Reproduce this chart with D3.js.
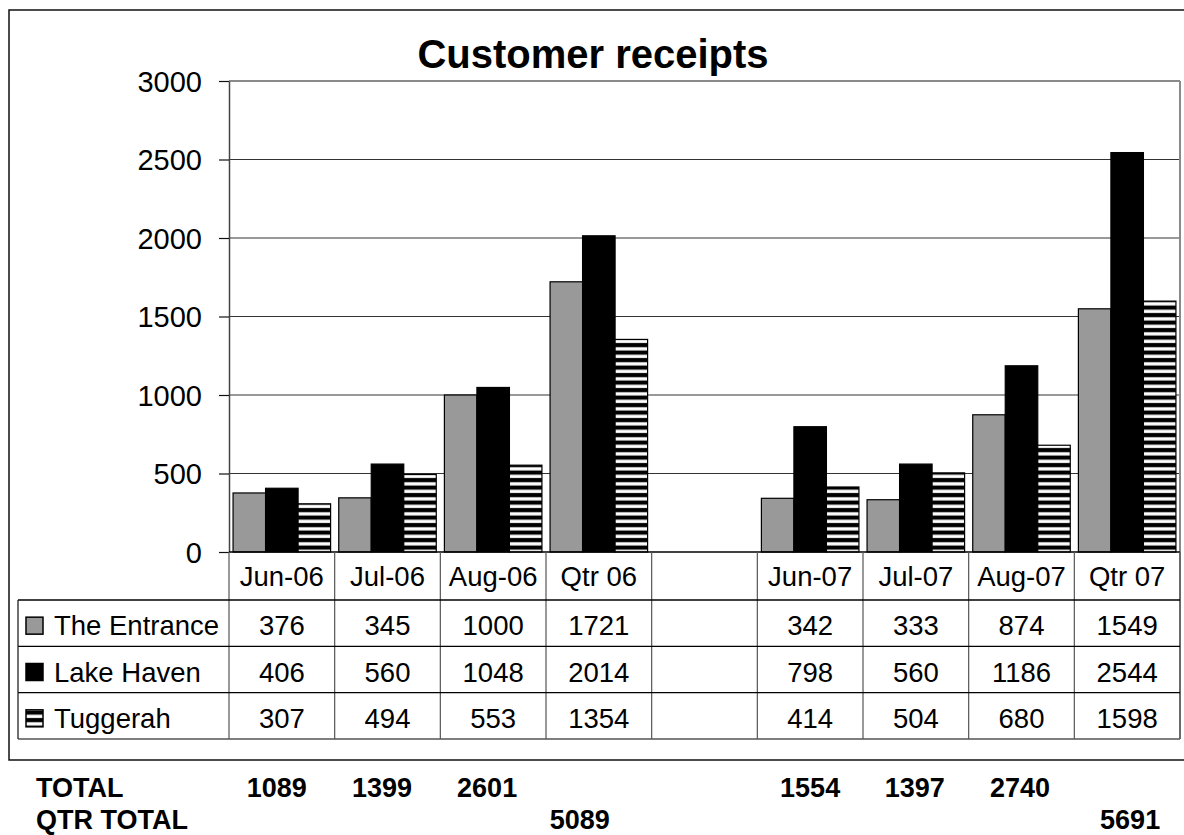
<!DOCTYPE html>
<html>
<head>
<meta charset="utf-8">
<script src="https://cdn.jsdelivr.net/npm/d3@7"></script>
<style>
  html, body { margin: 0; padding: 0; background: #fff; }
  svg { display: block; font-family: "Liberation Sans", Arial, sans-serif; }
</style>
</head>
<body>
<svg id="chart" width="1184" height="835"></svg>
<script>
const title = "Customer receipts";
const categories = ["Jun-06", "Jul-06", "Aug-06", "Qtr 06", "", "Jun-07", "Jul-07", "Aug-07", "Qtr 07"];
const seriesNames = ["The Entrance", "Lake Haven", "Tuggerah"];
const theEntrance = [376, 345, 1000, 1721, null, 342, 333, 874, 1549];
const lakeHaven = [406, 560, 1048, 2014, null, 798, 560, 1186, 2544];
const tuggerah = [307, 494, 553, 1354, null, 414, 504, 680, 1598];
const yTicks = [0, 500, 1000, 1500, 2000, 2500, 3000];
const totalLabel = "TOTAL";
const qtrTotalLabel = "QTR TOTAL";
const totals = [1089, 1399, 2601, null, null, 1554, 1397, 2740, null];
const qtrTotals = [null, null, null, 5089, null, null, null, null, 5691];

const seriesValues = [theEntrance, lakeHaven, tuggerah];

const svg = d3.select("#chart");
const plot = { left: 229, right: 1180, top: 81, bottom: 552 };
const tableTop = 600, tableBottom = 739, tableLeft = 18;

// pattern for Tuggerah
const defs = svg.append("defs");
const pat = defs.append("pattern")
  .attr("id", "hstripe").attr("patternUnits", "userSpaceOnUse")
  .attr("width", 8).attr("height", 7.5);
pat.append("rect").attr("width", 8).attr("height", 7.5).attr("fill", "#000");
pat.append("rect").attr("y", 2.2).attr("width", 8).attr("height", 3.3).attr("fill", "#fff");
const fills = ["#999999", "#000000", "url(#hstripe)"];

// outer frame
svg.append("rect").attr("x", 9).attr("y", 10).attr("width", 1200).attr("height", 750)
  .attr("fill", "#fff").attr("stroke", "#111").attr("stroke-width", 1.5);

const x = d3.scaleBand().domain(categories).range([plot.left, plot.right]);
const bw = x.bandwidth();
const gap = bw * 0.25 / 3.25;
const x1 = d3.scaleBand().domain(seriesNames).range([gap / 2, bw - gap / 2]);
const y = d3.scaleLinear().domain([0, 3000]).range([plot.bottom, plot.top]);

// gridlines
svg.append("g").selectAll("line").data(yTicks.filter(t => t > 0 && t < 3000)).join("line")
  .attr("x1", plot.left).attr("x2", plot.right)
  .attr("y1", d => y(d)).attr("y2", d => y(d))
  .attr("stroke", "#333").attr("stroke-width", 1);
// plot border top / right (gray)
svg.append("line").attr("x1", plot.left).attr("x2", plot.right)
  .attr("y1", y(3000)).attr("y2", y(3000)).attr("stroke", "#8a8a8a").attr("stroke-width", 2);
svg.append("line").attr("x1", plot.right).attr("x2", plot.right)
  .attr("y1", y(3000)).attr("y2", tableBottom).attr("stroke", "#8a8a8a").attr("stroke-width", 2);

// bars
const barData = [];
categories.forEach((c, i) => {
  seriesNames.forEach((s, j) => {
    const v = seriesValues[j][i];
    if (v != null) barData.push({ c, s, j, v });
  });
});
svg.append("g").selectAll("rect").data(barData).join("rect")
  .attr("x", d => x(d.c) + x1(d.s))
  .attr("y", d => y(d.v))
  .attr("width", x1.bandwidth())
  .attr("height", d => y(0) - y(d.v))
  .attr("fill", d => fills[d.j])
  .attr("stroke", "#000").attr("stroke-width", 1.2);

// y axis
const yAxis = svg.append("g").attr("transform", `translate(${plot.left},0)`)
  .call(d3.axisLeft(y).tickValues(yTicks).tickFormat(d3.format("d"))
    .tickSize(10).tickPadding(17).tickSizeOuter(0));
yAxis.select(".domain").attr("stroke", "#444").attr("stroke-width", 1.5);
yAxis.selectAll(".tick line").attr("stroke", "#111").attr("stroke-width", 1.2);
yAxis.selectAll(".tick text").attr("font-size", 29).attr("fill", "#000")
  .attr("font-family", "Liberation Sans, Arial, sans-serif").attr("dy", "0.36em");

// zero line
svg.append("line").attr("x1", plot.left).attr("x2", plot.right)
  .attr("y1", y(0)).attr("y2", y(0)).attr("stroke", "#000").attr("stroke-width", 1.5);

// title
svg.append("text").attr("x", 593).attr("y", 68).attr("text-anchor", "middle")
  .attr("font-size", 40).attr("font-weight", "bold").attr("fill", "#000").text(title);

// data table
const rowY = d3.scaleBand().domain(seriesNames).range([tableTop, tableBottom]);
const boundaries = categories.map(c => x(c)).concat([plot.right]);
svg.append("g").selectAll("line").data(boundaries).join("line")
  .attr("x1", d => d).attr("x2", d => d)
  .attr("y1", plot.bottom).attr("y2", tableBottom)
  .attr("stroke", "#555").attr("stroke-width", 1.2);
const hLines = seriesNames.map(s => rowY(s)).concat([tableBottom]);
svg.append("g").selectAll("line").data(hLines).join("line")
  .attr("x1", tableLeft).attr("x2", plot.right)
  .attr("y1", d => d).attr("y2", d => d)
  .attr("stroke", d => d === tableBottom ? "#555" : "#000").attr("stroke-width", 1.3);
svg.append("line").attr("x1", tableLeft).attr("x2", tableLeft)
  .attr("y1", tableTop).attr("y2", tableBottom).attr("stroke", "#222").attr("stroke-width", 1.3);

// category labels
svg.append("g").selectAll("text").data(categories).join("text")
  .attr("x", d => x(d) + bw / 2).attr("y", 586)
  .attr("text-anchor", "middle").attr("font-size", 27.5).attr("fill", "#000").text(d => d);

// legend keys, names and values
seriesNames.forEach((s, j) => {
  const cy = rowY(s) + rowY.bandwidth() / 2;
  svg.append("rect").attr("x", 26).attr("y", cy - 6).attr("width", 17).attr("height", 17)
    .attr("fill", fills[j]).attr("stroke", "#000").attr("stroke-width", 1.5);
  svg.append("text").attr("x", 54).attr("y", cy + 12).attr("font-size", 27.5)
    .attr("fill", "#000").text(s);
  svg.append("g").selectAll("text")
    .data(categories.map((c, i) => ({ c, v: seriesValues[j][i] })).filter(d => d.v != null))
    .join("text")
    .attr("x", d => x(d.c) + bw / 2).attr("y", cy + 12)
    .attr("text-anchor", "middle").attr("font-size", 27.5).attr("fill", "#000").text(d => d.v);
});

// totals below chart (spreadsheet cells)
svg.append("text").attr("x", 36).attr("y", 797).attr("font-size", 27).attr("font-weight", "bold").text(totalLabel);
svg.append("text").attr("x", 36).attr("y", 829).attr("font-size", 27).attr("font-weight", "bold").text(qtrTotalLabel);
const totalOffset = [25, 24.5, 24, 0, 0, 30, 29, 28.5, 0];
svg.append("g").selectAll("text")
  .data(categories.map((c, i) => ({ c, i, v: totals[i] })).filter(d => d.v != null))
  .join("text")
  .attr("x", d => x(d.c) + bw / 2 + totalOffset[d.i]).attr("y", 797)
  .attr("text-anchor", "end").attr("font-size", 27).attr("font-weight", "bold").text(d => d.v);
const qtrOffset = [0, 0, 0, 11, 0, 0, 0, 0, 33];
svg.append("g").selectAll("text")
  .data(categories.map((c, i) => ({ c, i, v: qtrTotals[i] })).filter(d => d.v != null))
  .join("text")
  .attr("x", d => x(d.c) + bw / 2 + qtrOffset[d.i]).attr("y", 829)
  .attr("text-anchor", "end").attr("font-size", 27).attr("font-weight", "bold").text(d => d.v);
</script>
</body>
</html>
